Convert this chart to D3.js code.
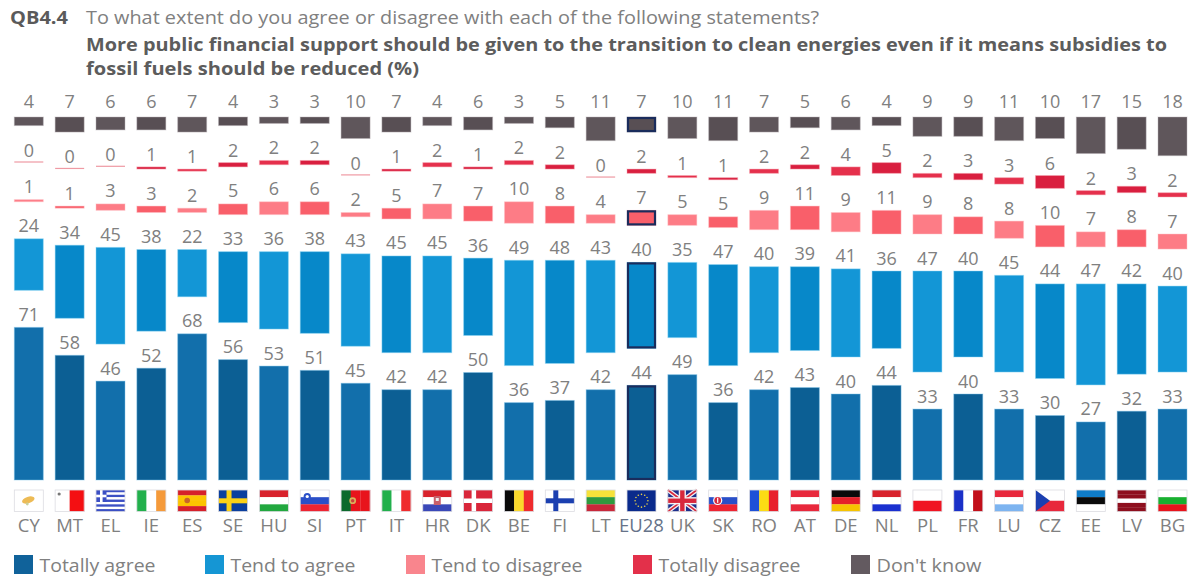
<!DOCTYPE html>
<html>
<head>
<meta charset="utf-8">
<script src="https://cdnjs.cloudflare.com/ajax/libs/d3/7.8.5/d3.min.js"></script>
<style>
  html, body { margin: 0; padding: 0; background: #fff; }
  svg { display: block; }
  text { font-family: "Open Sans", "Noto Sans", sans-serif; }
</style>
</head>
<body>
<svg id="chart" width="1193" height="577"></svg>
<script>
// Survey answers per country, in percent
const categories = ["CY","MT","EL","IE","ES","SE","HU","SI","PT","IT","HR","DK","BE","FI","LT","EU28","UK","SK","RO","AT","DE","NL","PL","FR","LU","CZ","EE","LV","BG"];
const totallyAgree  = [71,58,46,52,68,56,53,51,45,42,42,50,36,37,42,44,49,36,42,43,40,44,33,40,33,30,27,32,33];
const tendToAgree   = [24,34,45,38,22,33,36,38,43,45,45,36,49,48,43,40,35,47,40,39,41,36,47,40,45,44,47,42,40];
const tendDisagree  = [1,1,3,3,2,5,6,6,2,5,7,7,10,8,4,7,5,5,9,11,9,11,9,8,8,10,7,8,7];
const totallyDisagree = [0,0,0,1,1,2,2,2,0,1,2,1,2,2,0,2,1,1,2,2,4,5,2,3,3,6,2,3,2];
const dontKnow      = [4,7,6,6,7,4,3,3,10,7,4,6,3,5,11,7,10,11,7,5,6,4,9,9,11,10,17,15,18];

const seriesKeys   = ["Totally agree","Tend to agree","Tend to disagree","Totally disagree","Don't know"];
const seriesValues = [totallyAgree, tendToAgree, tendDisagree, totallyDisagree, dontKnow];

// Alternating column shades for each answer
const shadeA = ["#126fab","#1396d6","#fd7c86","#e5304c","#5f565b"];
const shadeB = ["#0c5f94","#0788c9","#f95f6a","#d91f3f","#584f54"];
const halo   = ["#7fc4e8","#8fd6f4","#ffc4c8","#f7a9b4","#b5b0b3"];
const legendColors = ["#10629a","#1596d4","#f9858d","#e3304a","#635a60"];

const title = {
  code: "QB4.4",
  question: "To what extent do you agree or disagree with each of the following statements?",
  line1: "More public financial support should be given to the transition to clean energies even if it means subsidies to",
  line2: "fossil fuels should be reduced  (%)"
};

// Flag descriptions: stripe direction with colours, plus an optional extra device
const flags = {
  CY:{dir:"h",c:["#ffffff"],extra:"cyprus"}, MT:{dir:"v",c:["#ffffff","#f40f12"],extra:"malta"},
  EL:{dir:"h",c:["#3b4fc4","#ffffff","#3b4fc4","#ffffff","#3b4fc4","#ffffff","#3b4fc4","#ffffff","#3b4fc4"],extra:"greece"},
  IE:{dir:"v",c:["#22b04c","#ffffff","#f59a3a"]}, ES:{dir:"h",c:["#d6202a","#fcc400","#fcc400","#d6202a"],extra:"spain"},
  SE:{dir:"h",c:["#0b3f9e"],extra:"sweden"}, HU:{dir:"h",c:["#d8222c","#ffffff","#22a83f"]},
  SI:{dir:"h",c:["#ffffff","#2a4fc8","#ee2432"],extra:"slovenia"}, PT:{dir:"v",c:["#0c6a2c","#e8141c","#e8141c"],extra:"portugal"},
  IT:{dir:"v",c:["#22b04c","#ffffff","#ef2b2d"]}, HR:{dir:"h",c:["#d8222c","#ffffff","#3a48b8"],extra:"croatia"},
  DK:{dir:"h",c:["#d9263a"],extra:"denmark"}, BE:{dir:"v",c:["#0a0a0a","#fbd92c","#ef2b2d"]},
  FI:{dir:"h",c:["#ffffff"],extra:"finland"}, LT:{dir:"h",c:["#f6e23a","#2e9a3e","#c8283a"]},
  EU28:{dir:"h",c:["#0a2a8c"],extra:"eu"}, UK:{dir:"h",c:["#1d2f8c"],extra:"uk"},
  SK:{dir:"h",c:["#ffffff","#2a4fc8","#ee2432"],extra:"slovakia"}, RO:{dir:"v",c:["#1d50d8","#fcdc14","#e8202c"]},
  AT:{dir:"h",c:["#e8283c","#ffffff","#e8283c"]}, DE:{dir:"h",c:["#0a0a0a","#e5202a","#f6c400"]},
  NL:{dir:"h",c:["#d8222c","#ffffff","#1a30d0"]}, PL:{dir:"h",c:["#ffffff","#f01422"]},
  FR:{dir:"v",c:["#1a30c8","#ffffff","#c20f1a"]}, LU:{dir:"h",c:["#e8283c","#ffffff","#7db4f0"]},
  CZ:{dir:"h",c:["#ffffff","#e8283c"],extra:"czech"}, EE:{dir:"h",c:["#0f7cc8","#0a0a0a","#ffffff"]},
  LV:{dir:"h",c:["#8e0f1e","#8e0f1e","#ffffff","#8e0f1e","#8e0f1e"]}, BG:{dir:"h",c:["#ffffff","#18b030","#e8141c"]}
};

const svg = d3.select("#chart");

// Layout
const x = d3.scaleBand().domain(categories).range([14.3, 1187]).paddingInner(0.29).paddingOuter(0);
const y = d3.scaleLinear().domain([0, 100]).range([480, 265]);
const bandGap = 37;          // white space between answer bands
const minBar = 1.2;          // hairline so a zero stays visible
const labelOffset = [6.5, 6.5, 6.5, 6, 9.5];
const labelColor = "#808080";

const rows = categories.map((c, i) => {
  const r = {category: c};
  seriesKeys.forEach((k, s) => { r[k] = seriesValues[s][i]; });
  return r;
});
const stacked = d3.stack().keys(seriesKeys)(rows);

// Bars and value labels, one group per answer
const groups = svg.selectAll("g.band").data(stacked).join("g").attr("class", "band");

groups.selectAll("rect")
  .data((layer, s) => layer.map((d, i) => ({s, i, y0: d[0], y1: d[1], cat: d.data.category})))
  .join("rect")
  .attr("x", d => x(d.cat))
  .attr("width", x.bandwidth())
  .attr("y", d => {
    const h = y(d.y0) - y(d.y1);
    return y(d.y1) - d.s * bandGap - (h < minBar ? minBar : 0);
  })
  .attr("height", d => Math.max(minBar, y(d.y0) - y(d.y1)))
  .attr("fill", d => (d.y1 - d.y0 === 0) ? "#ef9aa4" : (d.i % 2 ? shadeB[d.s] : shadeA[d.s]))
  .attr("stroke", d => halo[d.s])
  .attr("stroke-opacity", 0.45)
  .attr("stroke-width", d => (d.y1 - d.y0 === 0) ? 0 : 1);

// Outline around the EU average, except on its very thin bar
groups.selectAll("rect.eu")
  .data((layer, s) => layer.filter(d => d.data.category === "EU28" && s !== 3).map(d => ({s, y0: d[0], y1: d[1], cat: d.data.category})))
  .join("rect")
  .attr("class", "eu")
  .attr("x", d => x(d.cat) + 1)
  .attr("width", x.bandwidth() - 2)
  .attr("y", d => y(d.y1) - d.s * bandGap + 1)
  .attr("height", d => y(d.y0) - y(d.y1) - 2)
  .attr("fill", "none")
  .attr("stroke", "#1a2c5c")
  .attr("stroke-width", 2.2);

groups.selectAll("text")
  .data((layer, s) => layer.map(d => ({s, y1: d[1], v: d[1] - d[0], cat: d.data.category})))
  .join("text")
  .attr("x", d => x(d.cat) + x.bandwidth() / 2)
  .attr("y", d => y(d.y1) - d.s * bandGap - labelOffset[d.s])
  .attr("text-anchor", "middle")
  .attr("font-size", 18)
  .attr("fill", labelColor)
  .text(d => d.v);

// Country codes along the bottom
const axis = svg.append("g")
  .attr("transform", "translate(0,518)")
  .call(d3.axisBottom(x).tickSize(0).tickPadding(1));
axis.select(".domain").remove();
axis.selectAll("text")
  .style("font-family", '"Open Sans", sans-serif')
  .attr("font-size", 18.5)
  .attr("fill", d => d === "EU28" ? "#667389" : labelColor);

// Flags
const flagY = 490, flagH = 21.5;
const flagG = svg.selectAll("g.flag").data(categories).join("g")
  .attr("class", "flag")
  .attr("transform", d => `translate(${x(d)},${flagY})`);

flagG.each(function(code) {
  const g = d3.select(this), f = flags[code], W = x.bandwidth(), H = flagH;
  const n = f.c.length;
  f.c.forEach((col, i) => {
    g.append("rect")
      .attr("x", f.dir === "v" ? i * W / n : 0)
      .attr("y", f.dir === "h" ? i * H / n : 0)
      .attr("width", f.dir === "v" ? W / n + 0.2 : W)
      .attr("height", f.dir === "h" ? H / n + 0.2 : H)
      .attr("fill", col);
  });
  const r = (a, b, w, h, c) => g.append("rect").attr("x", a).attr("y", b).attr("width", w).attr("height", h).attr("fill", c);
  const dot = (a, b, rad, c) => g.append("circle").attr("cx", a).attr("cy", b).attr("r", rad).attr("fill", c);
  switch (f.extra) {
    case "cyprus": g.append("ellipse").attr("cx", 14).attr("cy", 10).attr("rx", 6.5).attr("ry", 3.2).attr("transform", "rotate(-18 14 10)").attr("fill", "#edbb55"); dot(13, 14, 1.4, "#c9cf9a"); break;
    case "malta": dot(4, 4, 1.6, "#777"); break;
    case "greece": r(0, 0, 10.5, 12, "#3b4fc4"); r(4, 0, 2.6, 12, "#fff"); r(0, 4.7, 10.5, 2.6, "#fff"); break;
    case "spain": dot(9.5, 10.5, 2.8, "#c8642a"); break;
    case "sweden": r(8, 0, 5, H, "#fcd116"); r(0, 8.3, W, 5, "#fcd116"); break;
    case "slovenia": dot(7, 6.5, 3.6, "#2a4fc8"); dot(7, 6.5, 1.6, "#fff"); break;
    case "portugal": dot(11.6, 10.7, 3.4, "#d9b25a"); dot(11.6, 10.7, 1.7, "#c9403a"); break;
    case "croatia": r(11, 6, 7, 9, "#c8606a"); r(13, 8, 3, 3, "#eee"); break;
    case "denmark": r(8, 0, 4.5, H, "#fff"); r(0, 8.5, W, 4.5, "#fff"); break;
    case "finland": r(8, 0, 5, H, "#1b3fb0"); r(0, 8.3, W, 5, "#1b3fb0"); break;
    case "eu":
      d3.range(12).forEach(k => {
        const a = k * Math.PI / 6;
        dot(W / 2 + 6.4 * Math.cos(a), H / 2 + 6.4 * Math.sin(a), 0.8, "#e8d24a");
      });
      break;
    case "uk":
      g.append("path").attr("d", `M0,0L${W},${H}M${W},0L0,${H}`).attr("stroke", "#f3f0f2").attr("stroke-width", 4.2);
      g.append("path").attr("d", `M0,0L${W},${H}M${W},0L0,${H}`).attr("stroke", "#d8283c").attr("stroke-width", 1.6);
      r(W / 2 - 3.6, 0, 7.2, H, "#f5f1f3"); r(0, H / 2 - 3.6, W, 7.2, "#f5f1f3");
      r(W / 2 - 2.2, 0, 4.4, H, "#d8283c"); r(0, H / 2 - 2.2, W, 4.4, "#d8283c");
      break;
    case "slovakia": dot(9, 10.5, 4.6, "#fff"); dot(9, 10.5, 3.4, "#d8283c"); r(8.4, 7.8, 1.2, 5, "#fff"); break;
    case "czech": g.append("path").attr("d", `M0,0L${W / 2},${H / 2}L0,${H}Z`).attr("fill", "#1b3fb0"); break;
  }
  // Thin pale frame around every flag
  g.append("rect").attr("width", W).attr("height", H).attr("fill", "none").attr("stroke", "#dcdce2").attr("stroke-width", 0.8);
});

// Heading
const heading = svg.append("g");
heading.append("text").attr("x", 10).attr("y", 24).attr("font-size", 17).attr("font-weight", 700).attr("fill", "#5a5a5a")
  .attr("textLength", 58).attr("lengthAdjust", "spacingAndGlyphs").text(title.code);
heading.append("text").attr("x", 86).attr("y", 24).attr("font-size", 17.5).attr("fill", "#808080")
  .attr("textLength", 733).attr("lengthAdjust", "spacingAndGlyphs").text(title.question);
heading.append("text").attr("x", 86).attr("y", 50.5).attr("font-size", 17.5).attr("font-weight", 700).attr("fill", "#5c5c5c")
  .attr("textLength", 1081).attr("lengthAdjust", "spacingAndGlyphs").text(title.line1);
heading.append("text").attr("x", 86).attr("y", 74.5).attr("font-size", 17.5).attr("font-weight", 700).attr("fill", "#5c5c5c")
  .attr("textLength", 333).attr("lengthAdjust", "spacingAndGlyphs").text(title.line2);

// Legend
const legendX = [14, 205, 406, 633, 851];
const legendW = [116, 125, 151, 142, 105];
const legend = svg.selectAll("g.legend").data(seriesKeys).join("g")
  .attr("class", "legend")
  .attr("transform", (d, i) => `translate(${legendX[i]},555)`);
legend.append("rect").attr("width", 19).attr("height", 19).attr("fill", (d, i) => legendColors[i]);
legend.append("text").attr("x", 25.5).attr("y", 16.5).attr("font-size", 18).attr("fill", labelColor)
  .attr("textLength", (d, i) => legendW[i]).attr("lengthAdjust", "spacingAndGlyphs").text(d => d);
</script>
</body>
</html>
